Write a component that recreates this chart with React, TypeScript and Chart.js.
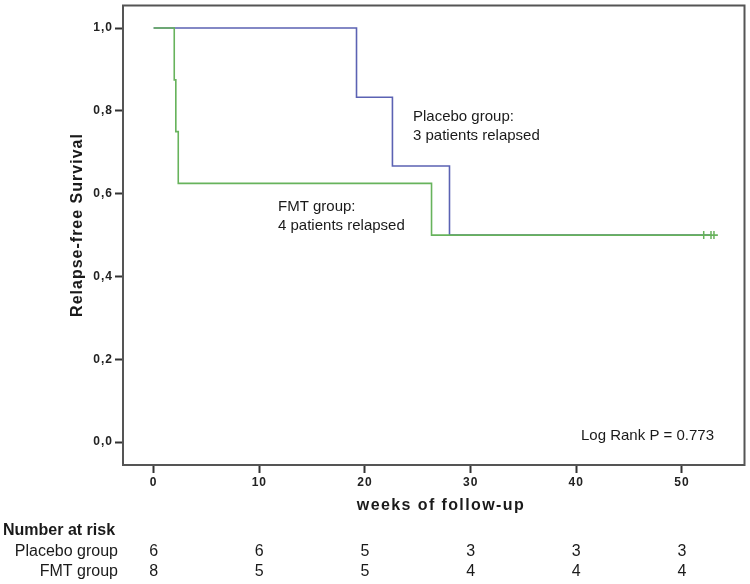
import React, { useEffect, useRef } from 'react';
import { Chart, registerables } from 'chart.js';

Chart.register(...registerables);

// ---- data ----
const xTicks = [0, 10, 20, 30, 40, 50];
const yTicks = [0, 0.2, 0.4, 0.6, 0.8, 1.0];

const placeboTimes = [0, 19.2, 22.6, 28.0, 52.7];
const placeboSurv = [1, 0.833, 0.667, 0.5, 0.5];

const fmtTimes = [0, 1.95, 2.1, 2.33, 26.3, 53.4];
const fmtSurv = [1, 0.875, 0.75, 0.625, 0.5, 0.5];

const fmtCensorTimes = [52.06, 52.75, 53.03];
const fmtCensorSurv = [0.5, 0.5, 0.5];

const riskGroups = ['Placebo group', 'FMT group'];
const placeboAtRisk = [6, 6, 5, 3, 3, 3];
const fmtAtRisk = [8, 5, 5, 4, 4, 4];

const xTitle = 'weeks of follow-up';
const yTitle = 'Relapse-free Survival';
const placeboNote = ['Placebo group:', '3 patients relapsed'];
const fmtNote = ['FMT group:', '4 patients relapsed'];
const logRankText = 'Log Rank P = 0.773';

const BLUE = '#5b62b3';
const GREEN = '#67b35c';
const FONT = "'Liberation Sans', Arial, Helvetica, sans-serif";
const TICK_FONT = "'Liberation Sans Narrow', 'Liberation Sans', Arial, sans-serif";

const toXY = (xs: number[], ys: number[]) => xs.map((x, i) => ({ x, y: ys[i] }));

const overlay = {
  id: 'overlay',
  beforeDraw(chart: any) {
    (chart.ctx as any).letterSpacing = '1px';
  },
  afterDraw(chart: any) {
    const { ctx, chartArea: a, scales } = chart;
    const xs = scales.x;
    ctx.save();
    (ctx as any).letterSpacing = '0px';

    // frame
    ctx.strokeStyle = '#555';
    ctx.lineWidth = 2;
    ctx.strokeRect(a.left, a.top, a.right - a.left, a.bottom - a.top);

    ctx.fillStyle = '#1a1a1a';
    ctx.textBaseline = 'middle';

    // annotations
    ctx.font = `15px ${FONT}`;
    ctx.textAlign = 'left';
    ctx.fillText(placeboNote[0], 413, 117);
    ctx.fillText(placeboNote[1], 413, 136);
    ctx.fillText(fmtNote[0], 278, 207);
    ctx.fillText(fmtNote[1], 278, 226);
    ctx.fillText(logRankText, 581, 436);

    // x title
    ctx.font = `bold 16px ${FONT}`;
    (ctx as any).letterSpacing = '1.4px';
    ctx.textAlign = 'center';
    ctx.fillText(xTitle, 441, 506);

    // y title
    (ctx as any).letterSpacing = '1px';
    ctx.save();
    ctx.translate(78, 225);
    ctx.rotate(-Math.PI / 2);
    ctx.fillText(yTitle, 0, 0);
    ctx.restore();
    (ctx as any).letterSpacing = '0px';

    // risk table
    ctx.font = `bold 16px ${FONT}`;
    ctx.textAlign = 'left';
    ctx.fillText('Number at risk', 3, 531);
    ctx.font = `16px ${FONT}`;
    ctx.textAlign = 'right';
    ctx.fillText(riskGroups[0], 118, 552);
    ctx.fillText(riskGroups[1], 118, 572);
    ctx.textAlign = 'center';
    xTicks.forEach((t, i) => {
      const px = xs.getPixelForValue(t);
      ctx.fillText(String(placeboAtRisk[i]), px, 552);
      ctx.fillText(String(fmtAtRisk[i]), px, 572);
    });
    ctx.restore();
  },
};

const zeroPad = (s: any) => {
  s.paddingTop = 0;
  s.paddingBottom = 0;
  s.paddingLeft = 0;
  s.paddingRight = 0;
};

export default function App() {
  const ref = useRef<HTMLCanvasElement | null>(null);
  useEffect(() => {
    if (!ref.current) return;
    const chart = new Chart(ref.current, {
      type: 'line',
      data: {
        datasets: [
          {
            label: 'FMT censored',
            data: toXY(fmtCensorTimes, fmtCensorSurv),
            showLine: false,
            pointStyle: 'line',
            rotation: 90,
            pointRadius: 4,
            pointBorderWidth: 1.5,
            borderColor: GREEN,
            backgroundColor: GREEN,
            order: 0,
          },
          {
            label: 'FMT group',
            data: toXY(fmtTimes, fmtSurv),
            stepped: true,
            borderColor: GREEN,
            borderWidth: 1.6,
            pointRadius: 0,
            fill: false,
            order: 1,
          },
          {
            label: 'Placebo group',
            data: toXY(placeboTimes, placeboSurv),
            stepped: true,
            borderColor: BLUE,
            borderWidth: 1.6,
            pointRadius: 0,
            fill: false,
            order: 2,
          },
        ],
      },
      options: {
        animation: false,
        responsive: false,
        devicePixelRatio: 1,
        layout: { padding: { left: 0, top: 3, right: 4, bottom: 0 } },
        plugins: { legend: { display: false }, tooltip: { enabled: false } },
        scales: {
          x: {
            type: 'linear',
            min: -2.9,
            max: 55.92,
            afterFit: (s: any) => { s.height = 119; zeroPad(s); },
            afterBuildTicks: (s: any) => { s.ticks = xTicks.map((v) => ({ value: v })); },
            border: { display: false },
            grid: { drawOnChartArea: false, drawTicks: true, tickLength: 8, tickColor: '#333', tickWidth: 2 },
            ticks: {
              padding: 2,
              maxRotation: 0,
              autoSkip: false,
              color: '#222',
              font: { family: TICK_FONT, size: 12, weight: 'bold' },
              callback: (v: any) => String(v),
            },
          },
          y: {
            type: 'linear',
            min: -0.0552,
            max: 1.0545,
            afterFit: (s: any) => { s.width = 123; zeroPad(s); },
            afterBuildTicks: (s: any) => { s.ticks = yTicks.map((v) => ({ value: v })); },
            border: { display: false },
            grid: { drawOnChartArea: false, drawTicks: true, tickLength: 8, tickColor: '#333', tickWidth: 2 },
            ticks: {
              padding: 2,
              autoSkip: false,
              color: '#222',
              font: { family: TICK_FONT, size: 12, weight: 'bold' },
              callback: (v: any) => Number(v).toFixed(1).replace('.', ','),
            },
          },
        },
      },
      plugins: [overlay],
    });
    return () => chart.destroy();
  }, []);
  return (
    <div style={{ position: 'fixed', left: 0, top: 0, width: 750, height: 584, background: '#fff' }}>
      <canvas ref={ref} width={750} height={584} style={{ display: 'block' }} />
    </div>
  );
}
